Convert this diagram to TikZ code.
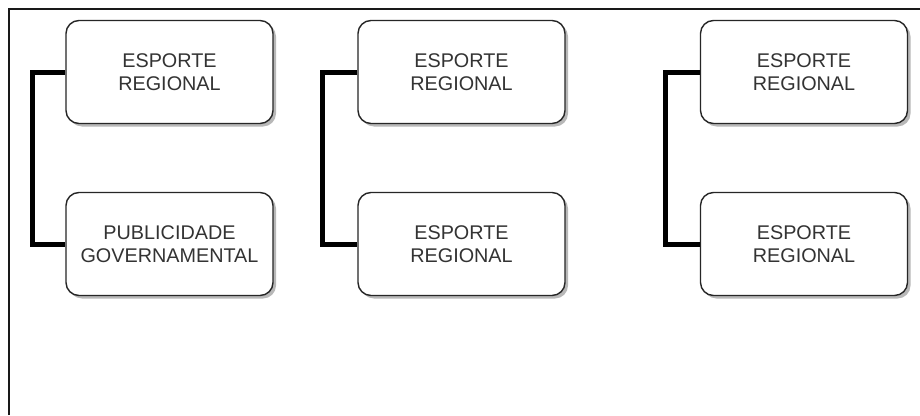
\documentclass[tikz,border=0pt]{standalone}
\usepackage{fontspec}
\setmainfont{Liberation Sans}
\begin{document}
\begin{tikzpicture}[x=1pt,y=-1pt,
  card/.style={draw=black!85, line width=1.4pt, fill=white, rounded corners=13pt,
    minimum width=207pt, minimum height=103pt, inner sep=0pt, align=center,
    text=black!80, font=\fontsize{19.8}{22.5}\selectfont},
  link/.style={line width=5pt, black},
  frameline/.style={line width=2pt, black!90}
]
\useasboundingbox (0,0) rectangle (920,415);
\fill[white] (0,0) rectangle (920,415);
% outer frame (only top and left edges fall inside the page)
\draw[frameline] (9,415) -- (9,9) -- (920,9);

% drop shadows under the cards
\foreach \cx/\cy in {169.5/72, 169.5/244, 461.5/72, 461.5/244, 804/72, 804/244}{
  \fill[black!28, rounded corners=13pt] (\cx-103.5+3,\cy-51.5+3) rectangle (\cx+103.5+3,\cy+51.5+3);
}

% cards
\node[card] (a1) at (169.5,72)  {ESPORTE\\REGIONAL};
\node[card] (a2) at (169.5,244) {PUBLICIDADE\\GOVERNAMENTAL};
\node[card] (b1) at (461.5,72)  {ESPORTE\\REGIONAL};
\node[card] (b2) at (461.5,244) {ESPORTE\\REGIONAL};
\node[card] (c1) at (804,72)    {ESPORTE\\REGIONAL};
\node[card] (c2) at (804,244)   {ESPORTE\\REGIONAL};

% bracket connectors
\draw[link] (a1.west) -- ++(-33,0) |- (a2.west);
\draw[link] (b1.west) -- ++(-35,0) |- (b2.west);
\draw[link] (c1.west) -- ++(-34,0) |- (c2.west);
\end{tikzpicture}
\end{document}
